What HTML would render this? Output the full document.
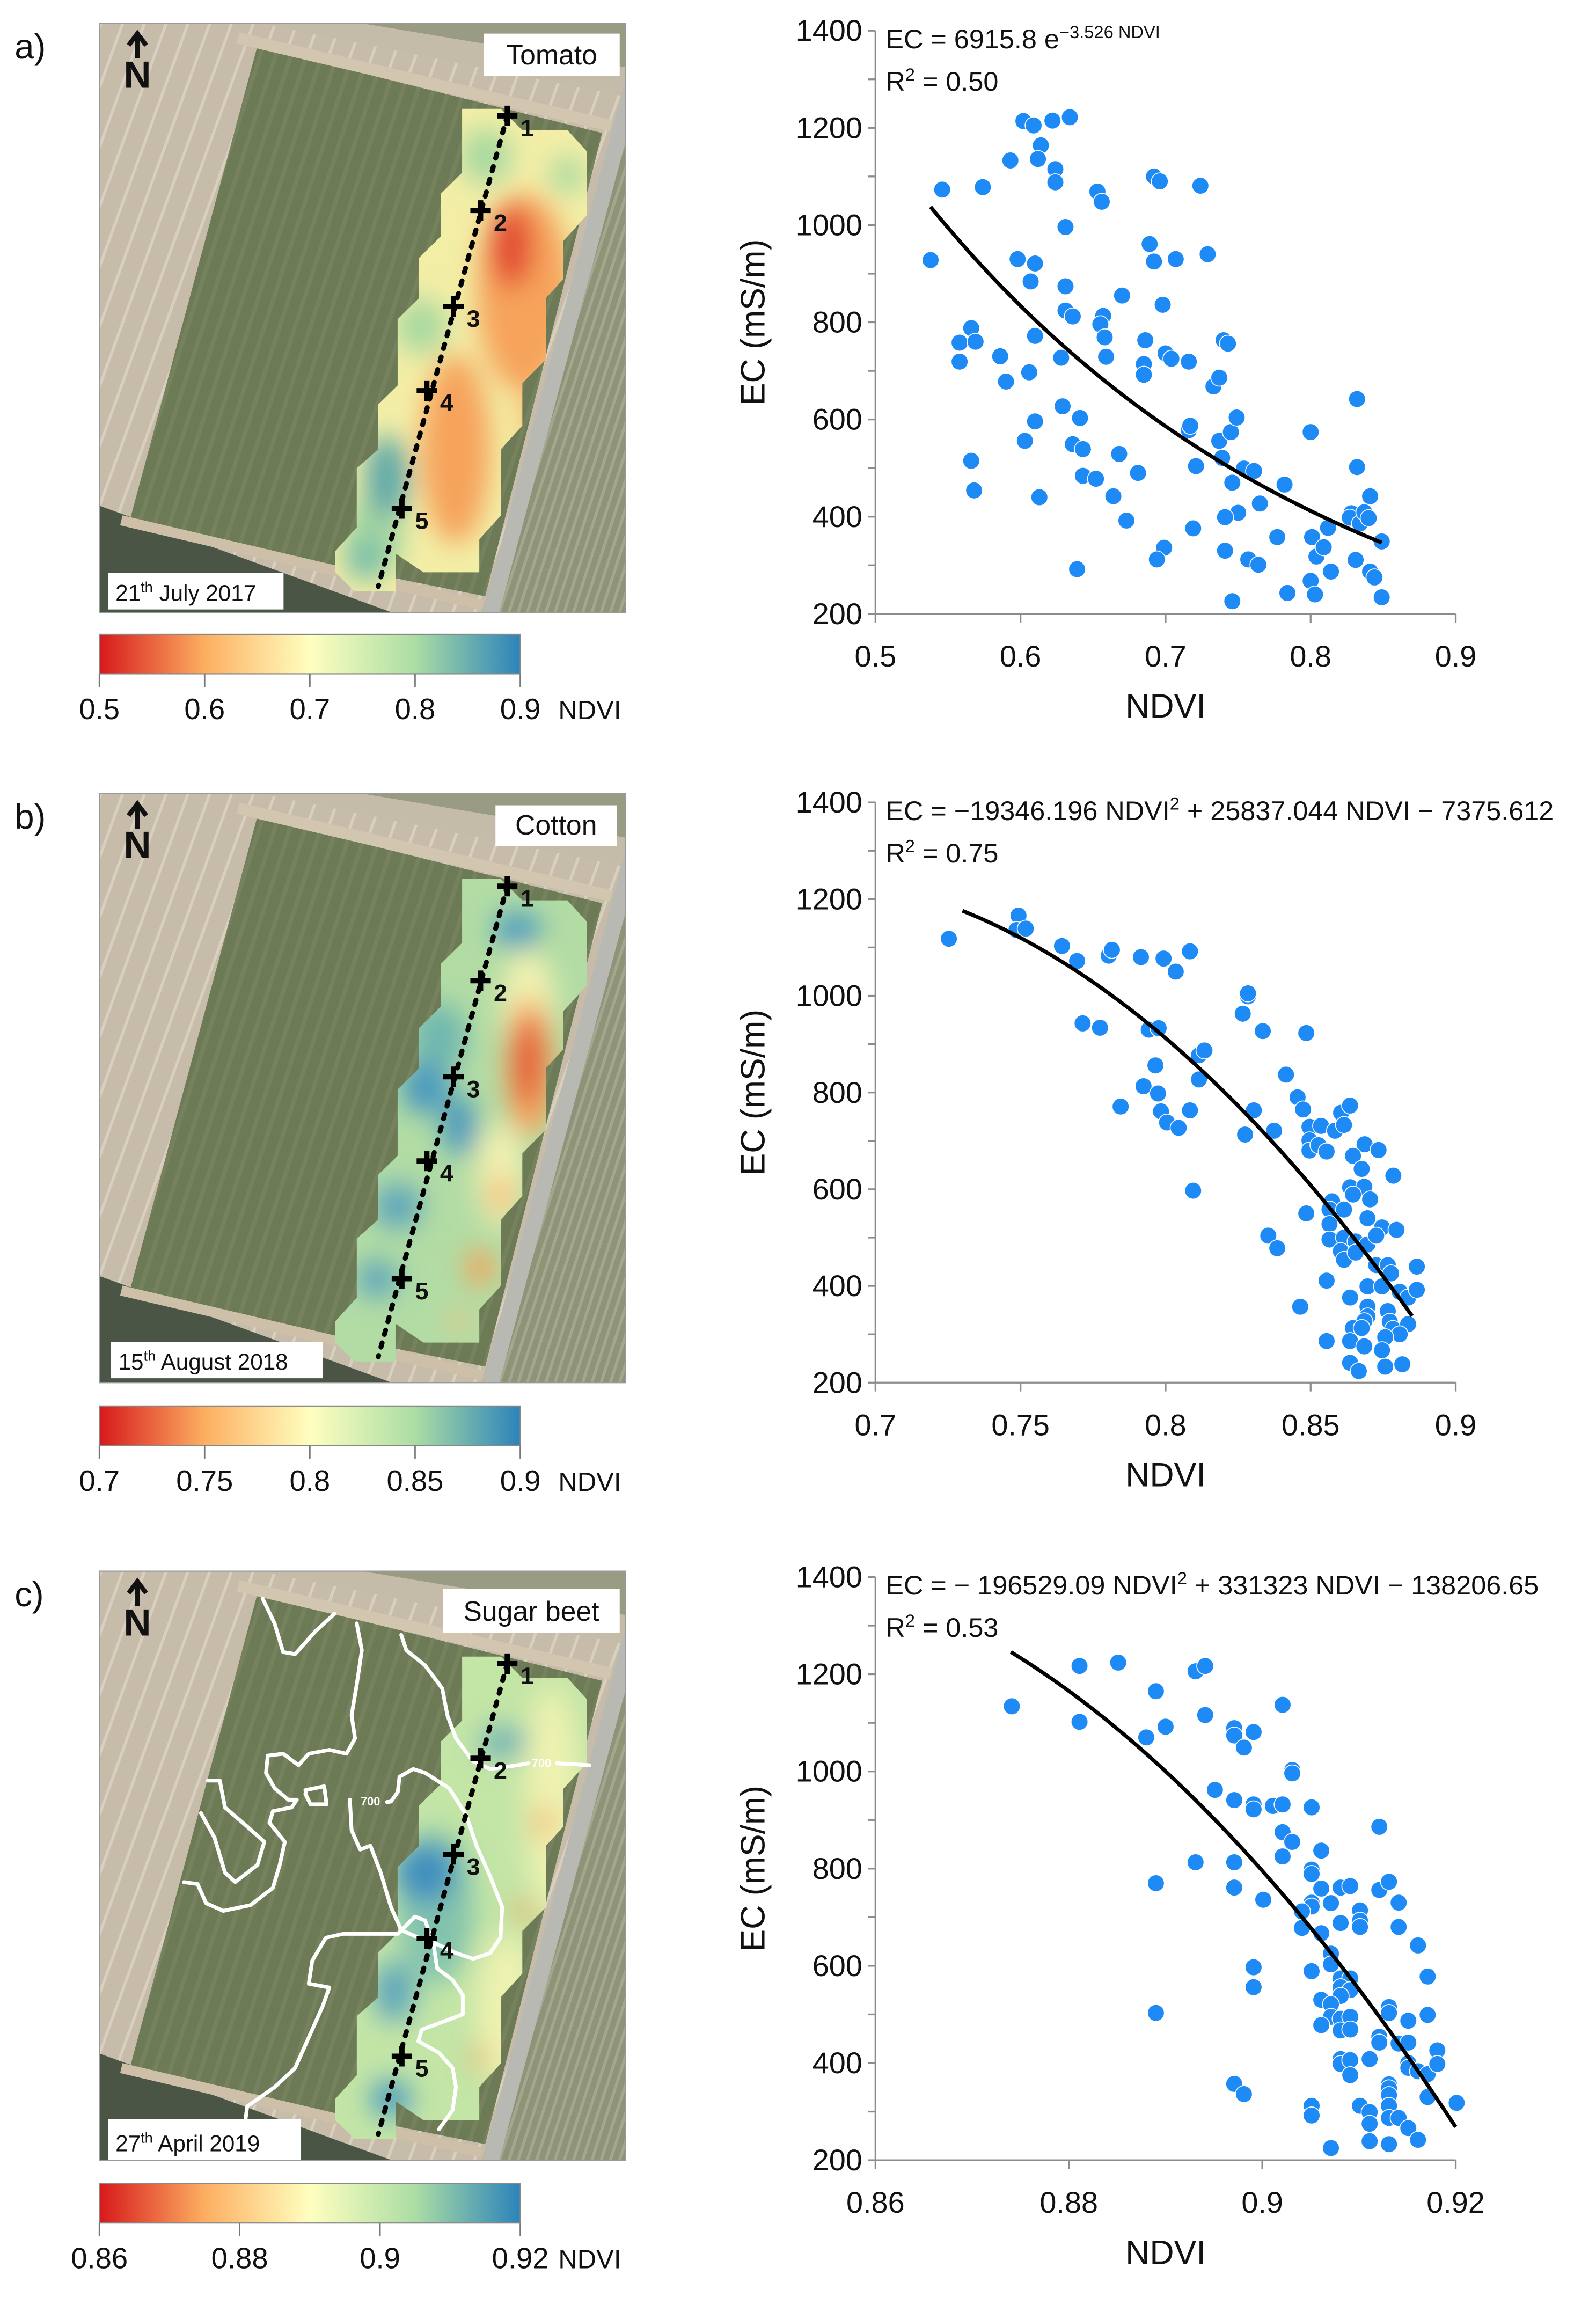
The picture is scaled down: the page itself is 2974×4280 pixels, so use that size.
<!DOCTYPE html>
<html><head><meta charset="utf-8"><style>
html,body{margin:0;padding:0;background:#fff;}
svg{display:block;font-family:"Liberation Sans",sans-serif;}
</style></head><body>
<svg id="fig" xmlns="http://www.w3.org/2000/svg" width="2974" height="4280" viewBox="0 0 1092 1571.6" preserveAspectRatio="none">
<defs>
<linearGradient id="cbar" x1="0" x2="1" y1="0" y2="0">
<stop offset="0" stop-color="#d7191c"/><stop offset="0.25" stop-color="#fdae61"/><stop offset="0.5" stop-color="#ffffbf"/><stop offset="0.75" stop-color="#abdda4"/><stop offset="1" stop-color="#2b83ba"/>
</linearGradient>
<filter id="blur" x="-50%" y="-50%" width="200%" height="200%"><feGaussianBlur stdDeviation="9"/></filter>
<pattern id="stripesL" width="14" height="14" patternUnits="userSpaceOnUse" patternTransform="rotate(20)"><rect width="14" height="14" fill="#c7bca9"/><rect width="2" height="14" fill="#d8cfbf"/></pattern>
<pattern id="stripesR" width="6" height="6" patternUnits="userSpaceOnUse" patternTransform="rotate(18)"><rect width="6" height="6" fill="#8f9479"/><rect width="2" height="6" fill="#a5a68e"/></pattern>
<pattern id="fieldP" width="10" height="10" patternUnits="userSpaceOnUse" patternTransform="rotate(18)"><rect width="10" height="10" fill="#6c7a55"/><rect width="3" height="10" fill="#75825d"/></pattern>
</defs>
<g id="root"></g>
</svg>
<script>
// ---------- Chart data ----------
const ndviA = [0.538,0.546,0.574,0.593,0.602,0.609,0.614,0.612,0.622,0.634,0.624,0.624,0.631,0.598,0.610,0.607,0.631,0.631,0.636,0.610,0.566,0.558,0.569,0.558,0.586,0.590,0.606,0.628,0.629,0.641,0.610,0.603,0.636,0.643,0.566,0.568,0.613,0.643,0.652,0.639,0.653,0.656,0.657,0.655,0.658,0.659,0.670,0.668,0.664,0.673,0.681,0.685,0.685,0.686,0.689,0.692,0.692,0.696,0.698,0.700,0.704,0.707,0.724,0.729,0.716,0.716,0.717,0.721,0.719,0.699,0.694,0.733,0.737,0.740,0.743,0.737,0.739,0.745,0.749,0.746,0.750,0.741,0.741,0.746,0.754,0.761,0.757,0.764,0.765,0.777,0.782,0.784,0.800,0.801,0.800,0.803,0.804,0.809,0.812,0.814,0.832,0.832,0.831,0.828,0.827,0.834,0.837,0.840,0.841,0.841,0.844,0.849,0.849];
const ecA = [928,1073,1078,1133,1214,1205,1164,1136,1215,1222,1115,1088,996,930,921,884,874,824,812,772,788,758,760,719,730,678,697,727,627,603,596,556,549,539,515,454,440,484,478,292,1069,1048,813,796,769,729,855,529,442,392,490,714,692,763,961,925,1100,1090,836,736,725,930,1081,940,719,578,587,504,376,336,312,668,686,763,756,556,521,574,604,470,408,399,330,226,499,494,312,301,427,358,466,243,574,358,268,240,318,337,377,287,642,502,311,407,398,386,409,397,442,287,275,349,234];
const fitA = [6915.8, -3.526, 0.538, 0.849];

const ndviB = [0.7253,0.7493,0.7486,0.7518,0.7643,0.7695,0.7804,0.7815,0.7915,0.7993,0.8035,0.8084,0.7714,0.7774,0.7942,0.7976,0.7965,0.8115,0.8134,0.8115,0.7924,0.7974,0.7845,0.7984,0.8005,0.8045,0.8084,0.8095,0.8284,0.8284,0.8266,0.8335,0.8485,0.8415,0.8455,0.8474,0.8304,0.8274,0.8374,0.8496,0.8536,0.8584,0.8605,0.8636,0.8615,0.8496,0.8496,0.8527,0.8555,0.8686,0.8734,0.8646,0.8676,0.8785,0.8636,0.8685,0.8646,0.8705,0.8574,0.8565,0.8615,0.8485,0.8565,0.8696,0.8746,0.8796,0.8354,0.8385,0.8565,0.8615,0.8655,0.8696,0.8726,0.8604,0.8615,0.8655,0.8726,0.8766,0.8777,0.8866,0.8555,0.8696,0.8746,0.8807,0.8836,0.8866,0.8636,0.8696,0.8464,0.8766,0.8696,0.8685,0.8773,0.8784,0.8836,0.8646,0.8676,0.8807,0.8555,0.8636,0.8685,0.8757,0.8746,0.8636,0.8666,0.8757,0.8816];
const ecB = [1118,1166,1136,1139,1103,1072,1083,1095,1080,1077,1050,1092,943,934,930,933,856,877,887,827,813,798,771,761,738,727,763,597,999,1005,963,927,923,837,790,765,763,713,721,729,731,721,758,773,733,701,680,691,678,693,681,669,642,628,604,605,589,579,575,558,558,550,528,540,521,516,504,478,496,500,492,486,504,472,454,469,443,443,426,440,411,399,399,388,376,392,376,357,357,348,337,327,326,311,321,313,313,300,286,286,275,294,267,241,224,233,238];
const fitB = [-19346.196, 25837.044, -7375.612, 0.73, 0.885];

const ndviC = [0.8741,0.8811,0.8811,0.8851,0.8890,0.8880,0.8900,0.8931,0.8941,0.8941,0.8971,0.8971,0.8991,0.8981,0.9021,0.9031,0.9031,0.8951,0.8971,0.8991,0.8991,0.9011,0.9021,0.9051,0.9021,0.9031,0.9021,0.9061,0.9121,0.8931,0.8971,0.8890,0.8971,0.9001,0.9051,0.9051,0.9061,0.9081,0.9091,0.9121,0.9131,0.9051,0.9051,0.9041,0.9071,0.9101,0.9101,0.9101,0.9141,0.9041,0.9081,0.9061,0.9141,0.9161,0.9071,0.9071,0.8991,0.9051,0.9171,0.9081,0.9091,0.9081,0.9091,0.9081,0.8991,0.9061,0.9071,0.9131,0.9131,0.9171,0.8890,0.9071,0.9081,0.9091,0.9061,0.9081,0.9091,0.9151,0.9121,0.9121,0.9141,0.9151,0.9181,0.9111,0.9081,0.9081,0.9091,0.9151,0.9151,0.9161,0.9171,0.9181,0.9091,0.8971,0.8981,0.9131,0.9131,0.9131,0.9171,0.9201,0.9051,0.9051,0.9101,0.9111,0.9131,0.9131,0.9141,0.9111,0.9151,0.9161,0.9111,0.9131,0.9071];
const ecC = [1134,1217,1102,1224,1165,1070,1092,1206,1217,1116,1089,1074,1081,1049,1137,1003,996,962,941,932,922,929,932,926,875,855,825,837,886,813,813,770,761,736,798,789,759,761,764,756,773,730,722,712,729,714,693,680,730,678,688,667,680,642,625,603,597,589,578,574,574,556,550,538,556,530,521,515,503,499,503,495,491,495,478,467,469,487,454,442,440,442,426,408,408,398,406,400,390,383,377,398,375,357,336,356,348,334,330,318,312,292,312,299,312,287,287,275,266,242,239,233,225];
const fitC = [-196529.09, 331323, -138206.65, 0.874, 0.92];

const yTicks = [200,400,600,800,1000,1200,1400];
const xTicksA = [0.5,0.6,0.7,0.8,0.9];
const xTicksB = [0.7,0.75,0.8,0.85,0.9];
const xTicksC = [0.86,0.88,0.9,0.92];
const cbTicksA = ['0.5','0.6','0.7','0.8','0.9'];
const cbTicksB = ['0.7','0.75','0.8','0.85','0.9'];
const cbTicksC = ['0.86','0.88','0.9','0.92'];

// ---------- helpers ----------
const NS='http://www.w3.org/2000/svg';
const root=document.getElementById('root');
function mk(tag,attrs,parent,text){const e=document.createElementNS(NS,tag);for(const k in attrs)e.setAttribute(k,attrs[k]);if(text!==undefined)e.textContent=text;(parent||root).appendChild(e);return e;}

function drawChart(o){
  const g=mk('g',{});
  
  
  const xs=v=>o.x0+(v-o.xmin)/(o.xmax-o.xmin)*(o.x1-o.x0);
  const ys=v=>o.yb-(v-200)/1200*(o.yb-o.yt);
  const ax=mk('path',{d:`M${o.x0},${o.yt}V${o.yb}H${o.x1}`,fill:'none',stroke:'#8c8c8c','stroke-width':1.2},g);
  
  
  for(let v=200;v<=1400;v+=100){mk('line',{x1:o.x0-5,x2:o.x0,y1:ys(v),y2:ys(v),stroke:'#8c8c8c','stroke-width':1.2},g);}
  yTicks.forEach(v=>{const t=mk('text',{x:o.x0-9,y:ys(v)+7,'text-anchor':'end','font-size':20.5,fill:'#111'},g,String(v));
    
    });
  o.xt.forEach(v=>{mk('line',{x1:xs(v),x2:xs(v),y1:o.yb,y2:o.yb+6,stroke:'#8c8c8c','stroke-width':1.2},g);
    const t=mk('text',{x:xs(v),y:o.yb+36,'text-anchor':'middle','font-size':20.5,fill:'#111'},g,String(v));
    
    });
  const yt=mk('text',{x:0,y:0,transform:`translate(${o.x0-76},${(o.yt+o.yb)/2}) rotate(-90)`,'text-anchor':'middle','font-size':23,fill:'#111'},g,'EC (mS/m)');
  
  
  const xt=mk('text',{x:(o.x0+o.x1)/2,y:o.yb+71,'text-anchor':'middle','font-size':23,fill:'#111'},g,'NDVI');
  
  
  o.nx.forEach((v,i)=>{const c=mk('circle',{cx:xs(v),cy:ys(o.ny[i]),r:5.8,fill:'#1e8af5',stroke:'#fff','stroke-width':0.6},g);
    
    });
  let d='';const n=80;
  for(let i=0;i<=n;i++){const x=o.fa+(o.fb-o.fa)*i/n;const y=o.f(x);d+=(i?'L':'M')+xs(x).toFixed(2)+','+ys(y).toFixed(2);}
  const fl=mk('path',{d,fill:'none',stroke:'#000','stroke-width':2.6},g);
  
  
  const eq=mk('text',{x:o.x0+7,y:o.yt+12,'font-size':18.5,fill:'#111'},g);
  
  
  o.eq.forEach(p=>{mk('tspan',p.sup?{'font-size':12,dy:-7}:{dy:p.down?7:0},eq,p.t);});
  const r2=mk('text',{x:o.x0+7,y:o.yt+41,'font-size':18.5,fill:'#111'},g);
  
  
  mk('tspan',{},r2,'R');mk('tspan',{'font-size':12,dy:-7},r2,'2');mk('tspan',{dy:7},r2,' = '+o.r2);
}

drawChart({name:'scatter-tomato',x0:599,x1:996,yt:21,yb:420,xmin:0.5,xmax:0.9,xt:xTicksA,nx:ndviA,ny:ecA,
  fa:fitA[2],fb:fitA[3],f:x=>fitA[0]*Math.exp(fitA[1]*x),r2:'0.50',
  eq:[{t:'EC = 6915.8 e'},{t:'−3.526 NDVI',sup:true}]});
drawChart({name:'scatter-cotton',x0:599,x1:996,yt:549,yb:946,xmin:0.7,xmax:0.9,xt:xTicksB,nx:ndviB,ny:ecB,
  fa:fitB[3],fb:fitB[4],f:x=>fitB[0]*x*x+fitB[1]*x+fitB[2],r2:'0.75',
  eq:[{t:'EC = −19346.196 NDVI'},{t:'2',sup:true},{t:' + 25837.044 NDVI − 7375.612',down:true}]});
drawChart({name:'scatter-sugar-beet',x0:599,x1:996,yt:1079,yb:1478,xmin:0.86,xmax:0.92,xt:xTicksC,nx:ndviC,ny:ecC,
  fa:fitC[3],fb:fitC[4],f:x=>fitC[0]*x*x+fitC[1]*x+fitC[2],r2:'0.53',
  eq:[{t:'EC = − 196529.09 NDVI'},{t:'2',sup:true},{t:' + 331323 NDVI − 138206.65',down:true}]});

// ---------- maps ----------
const z2=(x,y)=>[x/3.40-68,y/3.09-16];
const z56=(x,y)=>[(180+x/1.568)/2.7234-68,y/3.813-1];
const blobPoly=[[1075,230],[1165,230],[1215,275],[1320,275],[1365,320],[1365,455],[1310,510],[1310,590],[1270,630],[1270,760],[1215,810],[1215,900],[1165,950],[1165,1090],[1115,1140],[1115,1210],[985,1210],[920,1170],[920,1250],[825,1250],[780,1210],[780,1165],[830,1115],[830,990],[880,950],[880,855],[925,815],[925,675],[975,630],[975,545],[1025,500],[1025,410],[1075,365]].map(p=>z2(p[0],p[1]));
const crossPts=[[1180,245],[1118,445],[1055,648],[993,826],[935,1075]].map(p=>z2(p[0],p[1]));
const lineEnds=[z2(1180,245),z2(880,1240)];

const mapFeatA=[['#a9d9a0',1130,330,60,60],['#a9d9a0',1320,370,40,40],['#f6a35c',1220,620,110,210],['#f6a35c',1060,950,80,200],['#e34a33',1190,520,50,90],['#f8b86e',1250,880,40,60],['#a9d9a0',980,690,60,60],['#a9d9a0',870,1130,70,90],['#5fa8a8',900,1010,50,90],['#7cc0a8',850,1180,50,50]];
const mapFeatB=[['#f1f1b0',1260,560,80,150],['#f1f1b0',1180,1000,70,140],['#4f9fbf',1230,360,70,50],['#6fb7b0',1000,640,80,90],['#4a98bf',960,770,70,70],['#4a98bf',1060,870,50,80],['#5ea6bc',880,1080,70,60],['#5ea6bc',820,1270,60,50],['#f7a35c',1265,720,70,180],['#e0452e',1260,700,35,120],['#f7b06a',1180,1050,30,50],['#f7a35c',1120,1240,40,50],['#f8c27c',1060,1380,25,30]];
const mapFeatC=[['#eef2b0',1330,600,80,300],['#eef2b0',1200,1150,90,200],['#6fb0b8',1190,450,70,40],['#82c3ad',990,880,110,200],['#3f8fc0',960,790,90,80],['#5ea6bc',870,1100,60,80],['#4f9cc0',860,1380,60,50],['#f5a35a',1305,660,22,45],['#f5a35a',1250,890,28,28],['#f5a35a',1120,1270,20,35]];
const contoursC=[
[[485,75],[520,140],[545,215],[580,220],[640,160],[695,115]],
[[760,140],[775,210],[760,300],[745,380],[755,440],[730,480],[680,470],[620,480],[590,510],[545,480],[500,485],[495,530],[520,570],[560,600],[585,600],[570,620],[515,630],[505,660],[550,710],[535,770],[515,830],[450,875],[370,890],[320,870],[295,820],[255,815]],
[[325,550],[360,550],[375,620],[440,670],[490,710],[470,770],[405,815],[375,790],[345,700],[305,635]],
[[610,575],[665,565],[672,612],[625,612],[610,585],[612,575]],
[[890,170],[905,210],[960,250],[1010,310],[1025,380],[1050,440],[1100,500],[1150,520],[1230,510],[1262,505]],
[[1345,505],[1440,510]],
[[740,600],[745,680],[770,730],[800,720],[830,790],[860,880],[890,940],[940,960],[990,975],[1050,1000],[1100,1015],[1150,1000],[1180,960],[1185,880],[1150,800],[1110,720],[1080,640],[1030,570],[960,530],[925,520],[885,540],[880,580],[860,605],[848,606]],
[[435,1435],[440,1400],[520,1350],[580,1300],[620,1220],[660,1140],[680,1090],[620,1080],[630,1020],[670,960],[720,950],[880,950],[930,905],[960,915],[985,980],[995,1040],[1040,1070],[1070,1110],[1070,1160],[1010,1180],[950,1200],[940,1230],[1000,1260],[1040,1300],[1050,1350],[1040,1410],[1000,1460]]
];

function drawMap(o){
  const g=mk('g',{transform:`translate(${o.ox},${o.oy})`});
  
  
  const cid='clip'+o.id;
  const cp=mk('clipPath',{id:cid},g);mk('rect',{x:0,y:0,width:360,height:403},cp);
  const inner=mk('g',{'clip-path':`url(#${cid})`},g);
  mk('rect',{x:0,y:0,width:360,height:403,fill:'url(#stripesL)'},inner);
  mk('polygon',{points:'0,330 0,403 200,403',fill:'#4a5545'},inner);
  mk('polygon',{points:'0,-5 360,-5 360,50 110,0',fill:'#c5bba9'},inner);
  mk('polygon',{points:'150,-5 360,-5 360,30',fill:'#8f9479',opacity:0.8},inner);
  mk('polygon',{points:'367,20 360,403 262,403',fill:'url(#stripesR)'},inner);
  mk('polygon',{points:'108,16 344,75 264,392 20,343',fill:'url(#fieldP)'},inner);
  mk('line',{x1:372,y1:15,x2:266,y2:410,stroke:'#b9b9b3','stroke-width':11},inner);
  mk('line',{x1:95,y1:10,x2:350,y2:70,stroke:'#d2c6b0','stroke-width':8},inner);
  mk('line',{x1:15,y1:340,x2:262,y2:398,stroke:'#cdbfa8','stroke-width':7},inner);
  const bid='blob'+o.id;
  const bp=mk('clipPath',{id:bid},g);
  mk('polygon',{points:blobPoly.map(p=>p.join(',')).join(' ')},bp);
  const surf=mk('g',{'clip-path':`url(#${bid})`},g);
  
  
  mk('rect',{x:0,y:0,width:360,height:403,fill:o.base},surf);
  const fg=mk('g',{filter:'url(#blur)'},surf);
  o.feat.forEach(f=>{const c=o.conv(f[1],f[2]);const s=o.conv(f[1]+f[3],f[2]+f[4]);
    mk('ellipse',{cx:c[0],cy:c[1],rx:Math.abs(s[0]-c[0]),ry:Math.abs(s[1]-c[1]),fill:f[0]},fg);});
  if(o.contours){o.contours.forEach(cl=>{const pl=mk('polyline',{points:cl.map(p=>o.conv(p[0],p[1]).join(',')).join(' '),fill:'none',stroke:'#fff','stroke-width':2.6,'stroke-linejoin':'round','stroke-linecap':'round'},g);
      
      });
    const a=o.conv(1300,515),b=o.conv(800,615);
    mk('text',{x:a[0],y:a[1],'font-size':8,'font-weight':'bold',fill:'#fff','text-anchor':'middle'},g,'700');
    mk('text',{x:b[0],y:b[1],'font-size':8,'font-weight':'bold',fill:'#fff','text-anchor':'middle'},g,'700');}
  const tl=mk('line',{x1:lineEnds[0][0],y1:lineEnds[0][1],x2:lineEnds[1][0],y2:lineEnds[1][1],stroke:'#000','stroke-width':3.4,'stroke-dasharray':'3,6','stroke-linecap':'round'},g);
  
  
  crossPts.forEach((p,i)=>{mk('path',{d:`M${p[0]-7},${p[1]}H${p[0]+7}M${p[0]},${p[1]-7}V${p[1]+7}`,stroke:'#000','stroke-width':3.6},g);
    const t=mk('text',{x:p[0]+9,y:p[1]+14,'font-size':16.5,'font-weight':'bold',fill:'#111'},g,String(i+1));
    
    });
  const na=mk('g',{},g);
  
  
  mk('path',{d:'M26,24V8M20,15L26,7L32,15',fill:'none',stroke:'#111','stroke-width':3.2},na);
  mk('text',{x:26,y:44,'font-size':26,'font-weight':'bold','text-anchor':'middle',fill:'#111'},na,'N');
  mk('rect',{x:o.cb[0],y:o.cb[1],width:o.cb[2]-o.cb[0],height:o.cb[3]-o.cb[1],fill:'#fff'},g);
  const ct=mk('text',{x:(o.cb[0]+o.cb[2])/2,y:o.cb[3]-8,'font-size':19,'text-anchor':'middle',fill:'#111'},g,o.crop);
  
  
  mk('rect',{x:o.db[0],y:o.db[1],width:o.db[2]-o.db[0],height:o.db[3]-o.db[1],fill:'#fff'},g);
  const dt=mk('text',{x:o.db[0]+5,y:o.db[3]-6,'font-size':15.5,fill:'#111'},g);
  
  
  mk('tspan',{},dt,o.date[0]);mk('tspan',{'font-size':10,dy:-6},dt,'th');mk('tspan',{dy:6},dt,o.date[1]);
  mk('rect',{x:0,y:0,width:360,height:403,fill:'none',stroke:'#999','stroke-width':0.8},g);
}
drawMap({name:'map-tomato',id:'a',ox:68,oy:16,base:'#f3eea6',feat:mapFeatA,conv:z2,cb:[263,7,356,36],db:[6,376,126,401],crop:'Tomato',date:['21',' July 2017']});
drawMap({name:'map-cotton',id:'b',ox:68,oy:543,base:'#b2dca4',feat:mapFeatB,conv:z56,cb:[271,8,354,36],db:[8,375,153,400],crop:'Cotton',date:['15',' August 2018']});
drawMap({name:'map-sugar-beet',id:'c',ox:68,oy:1075,base:'#c3e5a6',feat:mapFeatC,conv:z56,contours:contoursC,cb:[235,12,356,42],db:[6,375,138,403],crop:'Sugar beet',date:['27',' April 2019']});

function colorbar(name,y,labels){
  const g=mk('g',{});
  
  
  mk('rect',{x:68,y:y,width:288,height:27,fill:'url(#cbar)',stroke:'#888','stroke-width':0.8},g);
  labels.forEach((l,i)=>{const x=68+288*i/(labels.length-1);
    mk('line',{x1:x,x2:x,y1:y+27,y2:y+36,stroke:'#777','stroke-width':1},g);
    mk('text',{x:x,y:y+58,'font-size':20,'text-anchor':'middle',fill:'#111'},g,l);});
  mk('text',{x:382,y:y+58,'font-size':18,fill:'#111'},g,'NDVI');
}
colorbar('colorbar-tomato',434,cbTicksA);
colorbar('colorbar-cotton',962,cbTicksB);
colorbar('colorbar-sugar-beet',1494,cbTicksC);

[['a)',40],['b)',567],['c)',1099]].forEach(p=>{const t=mk('text',{x:10,y:p[1],'font-size':24,fill:'#111'},root,p[0]);
  
  });
</script>
</body></html>
